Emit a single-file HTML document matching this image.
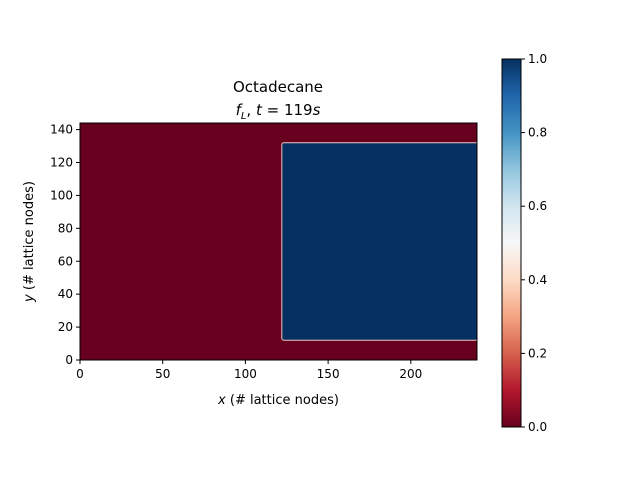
<!DOCTYPE html>
<html><head><meta charset="utf-8"><style>
body{margin:0;background:#fff}
svg{display:block;font-family:"DejaVu Sans","Liberation Sans",sans-serif}
</style></head><body>
<svg id="c" width="640" height="480" viewBox="0 0 640 480">
<defs>
<linearGradient id="rdbu" x1="0" y1="1" x2="0" y2="0">
<stop offset="0" stop-color="#67001f"/><stop offset="0.1" stop-color="#b2182b"/>
<stop offset="0.2" stop-color="#d6604d"/><stop offset="0.3" stop-color="#f4a582"/>
<stop offset="0.4" stop-color="#fddbc7"/><stop offset="0.5" stop-color="#f7f7f7"/>
<stop offset="0.6" stop-color="#d1e5f0"/><stop offset="0.7" stop-color="#92c5de"/>
<stop offset="0.8" stop-color="#4393c3"/><stop offset="0.9" stop-color="#2166ac"/>
<stop offset="1" stop-color="#053061"/>
</linearGradient>
</defs>
<text x="278" y="92" text-anchor="middle" font-size="15" fill="#000">Octadecane</text>
<text x="278" y="115" text-anchor="middle" font-size="15" fill="#000"><tspan font-style="italic">f</tspan><tspan font-style="italic" font-size="10" dy="4">L</tspan><tspan dy="-4">, </tspan><tspan font-style="italic">t</tspan> = 119<tspan font-style="italic">s</tspan></text>
<g id="plot"></g>
<g id="cbar"></g>
</svg>
<script>
const xTicks=[0,50,100,150,200];
const yTicks=[0,20,40,60,80,100,120,140];
const xDomain=[0,240];
const yDomain=[0,144];
const solidRegion={x0:0,x1:240,y0:0,y1:144,value:0};
const liquidRegion={x0:122,x1:240,y0:12,y1:132,value:1};
const cbTicks=[0.0,0.2,0.4,0.6,0.8,1.0];
const NS="http://www.w3.org/2000/svg";
const L=80,R=477,T=123,B=360;
const sx=v=>L+(v-xDomain[0])/(xDomain[1]-xDomain[0])*(R-L);
const sy=v=>B-(v-yDomain[0])/(yDomain[1]-yDomain[0])*(B-T);
function cmap(v){return v>=0.5?'#053061':'#67001f';}
function mk(tag,attrs,parent){const e=document.createElementNS(NS,tag);for(const k in attrs)e.setAttribute(k,attrs[k]);parent.appendChild(e);return e;}
const g=document.getElementById('plot');
let r=mk('rect',{x:sx(solidRegion.x0),y:sy(solidRegion.y1),width:sx(solidRegion.x1)-sx(solidRegion.x0),height:sy(solidRegion.y0)-sy(solidRegion.y1),fill:cmap(solidRegion.value)},g);


let lq=mk('rect',{x:sx(liquidRegion.x0),y:sy(liquidRegion.y1),width:sx(liquidRegion.x1)-sx(liquidRegion.x0)+4,height:sy(liquidRegion.y0)-sy(liquidRegion.y1),rx:2,fill:cmap(liquidRegion.value),stroke:'#f0c8c0','stroke-width':1},g);


// cover overflow to the right
let cov=mk('rect',{x:R,y:T-2,width:10,height:B-T+4,fill:'#fff'},g);


let fr=mk('rect',{x:L,y:T,width:R-L,height:B-T,fill:'none',stroke:'#000','stroke-width':1},g);


xTicks.forEach(t=>{
 const x=sx(t);
 let l=mk('line',{x1:x,x2:x,y1:B,y2:B+4,stroke:'#000'},g);
 
 
 let tx=mk('text',{x:x,y:B+18,'text-anchor':'middle','font-size':12},g);tx.textContent=t;
 
 
});
yTicks.forEach(t=>{
 const y=sy(t);
 let l=mk('line',{x1:L-4,x2:L,y1:y,y2:y,stroke:'#000'},g);
 
 
 let tx=mk('text',{x:L-7,y:y+4,'text-anchor':'end','font-size':12},g);tx.textContent=t;
 
 
});
let xl=mk('text',{x:(L+R)/2,y:404,'text-anchor':'middle','font-size':13},g);
xl.innerHTML='<tspan font-style="italic">x</tspan> (# lattice nodes)';


let yl=mk('text',{x:33,y:(T+B)/2,'text-anchor':'middle','font-size':13,transform:'rotate(-90 33 '+((T+B)/2)+')'},g);
yl.innerHTML='<tspan font-style="italic">y</tspan> (# lattice nodes)';


const cg=document.getElementById('cbar');
const CL=502,CR=521,CT=59,CB=427;
let cb=mk('rect',{x:CL,y:CT,width:CR-CL,height:CB-CT,fill:'url(#rdbu)',stroke:'#000','stroke-width':1},cg);


cbTicks.forEach(t=>{
 const y=CB-t*(CB-CT);
 let l=mk('line',{x1:CR,x2:CR+4,y1:y,y2:y,stroke:'#000'},cg);
 
 
 let tx=mk('text',{x:CR+7,y:y+4,'font-size':12},cg);tx.textContent=t.toFixed(1);
 
 
});
</script>
</body></html>
